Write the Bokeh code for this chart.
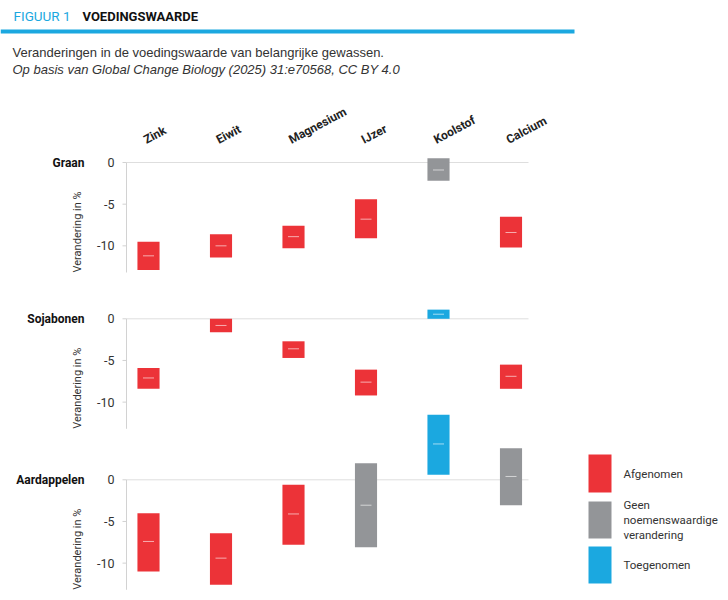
import math
from bokeh.plotting import figure
from bokeh.models import Range1d, ColumnDataSource
from bokeh.core.properties import value
from bokeh.embed import file_html
from bokeh.resources import INLINE

# ---------------- data ----------------
nutrients = ["Zink", "Eiwit", "Magnesium", "IJzer", "Koolstof", "Calcium"]
crops = ["Graan", "Sojabonen", "Aardappelen"]

graan_low = [-12.9, -11.4, -10.3, -9.1, -2.2, -10.2]
graan_med = [-11.2, -10.0, -8.9, -6.8, -0.9, -8.4]
graan_high = [-9.5, -8.6, -7.6, -4.4, 0.5, -6.5]
graan_status = ["Afgenomen", "Afgenomen", "Afgenomen", "Afgenomen", "Geen", "Afgenomen"]

soja_low = [-8.4, -1.6, -4.7, -9.2, 0.0, -8.4]
soja_med = [-7.1, -0.8, -3.6, -7.6, 0.55, -6.9]
soja_high = [-5.9, 0.0, -2.7, -6.1, 1.1, -5.5]
soja_status = ["Afgenomen", "Afgenomen", "Afgenomen", "Afgenomen", "Toegenomen", "Afgenomen"]

aard_low = [-11.0, -12.6, -7.8, -8.1, 0.6, -3.05]
aard_med = [-7.4, -9.4, -4.1, -3.05, 4.3, 0.4]
aard_high = [-4.0, -6.4, -0.6, 2.0, 7.8, 3.8]
aard_status = ["Afgenomen", "Afgenomen", "Afgenomen", "Geen", "Toegenomen", "Geen"]

y_ticks = [0, -5, -10]
y_tick_labels = ["0", "-5", "-10"]
axis_bottom = -13.2

legend_keys = ["Afgenomen", "Geen", "Toegenomen"]
legend_lines = [["Afgenomen"], ["Geen", "noemenswaardige", "verandering"], ["Toegenomen"]]
status_colors = {"Afgenomen": "#ec3338", "Geen": "#939598", "Toegenomen": "#1ba8e0"}

title_a = "FIGUUR 1"
title_b = "VOEDINGSWAARDE"
subtitle = "Veranderingen in de voedingswaarde van belangrijke gewassen."
source_line = "Op basis van Global Change Biology (2025) 31:e70568, CC BY 4.0"
y_label = "Verandering in %"

# ---------------- layout constants (pixels of the reference) ----------------
W, H = 728, 600
col_first, col_step = 148.0, 72.5
px_per_unit = 8.333
zero_px = {"Graan": 162.0, "Sojabonen": 318.3, "Aardappelen": 479.3}

COND = "Roboto"
SANS = "'Liberation Sans', Arial, sans-serif"
TXT = "#333333"

p = figure(width=W, height=H, title=None,
           x_range=Range1d(0, W), y_range=Range1d(H, 0),
           x_axis_location=None, y_axis_location=None,
           output_backend="svg", toolbar_location=None,
           min_border=0, outline_line_color=None)
p.grid.visible = False
p.background_fill_color = "white"

p.extra_x_ranges = {"nut": Range1d((0 - col_first) / col_step, (W - col_first) / col_step)}
for c in crops:
    z = zero_px[c]
    p.extra_y_ranges[c] = Range1d((z - H) / px_per_unit, z / px_per_unit)

idx = list(range(len(nutrients)))

# ---------------- header ----------------
p.text(x=[13], y=[15.5], text=[title_a], text_font=value(COND), text_font_size="13.5px",
       text_color="#1ba8e0", text_baseline="middle", text_align="left")
p.text(x=[82], y=[15.5], text=[title_b], text_font=value(COND), text_font_size="13px",
       text_font_style="bold", text_color="#111111", text_baseline="middle", text_align="left")
p.segment(x0=[0], x1=[574], y0=[31], y1=[31], line_color="#1ba8e0", line_width=4, line_cap="butt")
p.text(x=[12], y=[52], text=[subtitle], text_font=value(SANS), text_font_size="13px",
       text_color=TXT, text_baseline="middle")
p.text(x=[12], y=[69], text=[source_line], text_font=value(SANS), text_font_size="13px",
       text_font_style="italic", text_color=TXT, text_baseline="middle")

# ---------------- column labels ----------------
p.text(x=idx, y=[140] * len(idx), text=nutrients, x_range_name="nut",
       angle=math.radians(28), x_offset=-4, text_align="left", text_baseline="alphabetic",
       text_font=value(COND), text_font_size="12px", text_font_style="bold", text_color="#222222")

# ---------------- panels ----------------
panels = [
    ("Graan", graan_low, graan_med, graan_high, graan_status),
    ("Sojabonen", soja_low, soja_med, soja_high, soja_status),
    ("Aardappelen", aard_low, aard_med, aard_high, aard_status),
]

for crop, low, med, high, status in panels:
    p.segment(x0=[126], x1=[528], y0=[0], y1=[0], y_range_name=crop, line_color="#dedede", line_width=1)
    p.segment(x0=[126], x1=[126], y0=[0], y1=[axis_bottom], y_range_name=crop,
              line_color="#d2d2d2", line_width=1)
    p.segment(x0=[122] * len(y_ticks), x1=[126] * len(y_ticks), y0=y_ticks, y1=y_ticks,
              y_range_name=crop, line_color="#d2d2d2", line_width=1)
    p.text(x=[114] * len(y_ticks), y=y_ticks, text=y_tick_labels, y_range_name=crop,
           text_align="right", text_baseline="middle", text_font=value(COND),
           text_font_size="12.5px", text_color=TXT)
    p.text(x=[84], y=[0], text=[crop], y_range_name=crop, text_align="right", text_baseline="middle",
           text_font=value(COND), text_font_size="12px", text_font_style="bold", text_color="#111111")
    p.text(x=[77], y=[axis_bottom], text=[y_label], y_range_name=crop, angle=math.pi / 2,
           text_align="left", text_baseline="middle", text_font=value(COND),
           text_font_size="11px", text_color=TXT)

    src = ColumnDataSource(dict(x=idx, low=low, med=med, high=high,
                                color=[status_colors[s] for s in status]))
    p.vbar(x="x", width=0.305, top="high", bottom="low", source=src, fill_color="color",
           line_color=None, x_range_name="nut", y_range_name=crop)
    p.scatter(x="x", y="med", source=src, marker="dash", size=11, line_color="white",
              line_alpha=0.6, line_width=1, x_range_name="nut", y_range_name=crop)

# ---------------- legend ----------------
sw_top = [454, 501, 546]
sw_bot = [492, 538, 583]
p.quad(left=[588] * 3, right=[611] * 3, top=sw_top, bottom=sw_bot,
       fill_color=[status_colors[k] for k in legend_keys], line_color=None)
for k, lines, t, b in zip(legend_keys, legend_lines, sw_top, sw_bot):
    mid = (t + b) / 2
    n = len(lines)
    ys = [mid + (i - (n - 1) / 2) * 15 for i in range(n)]
    p.text(x=[623] * n, y=ys, text=lines, text_align="left", text_baseline="middle",
           text_font=value(COND), text_font_size="11.5px", text_color=TXT)

open("out.html", "w").write(file_html(p, INLINE))
